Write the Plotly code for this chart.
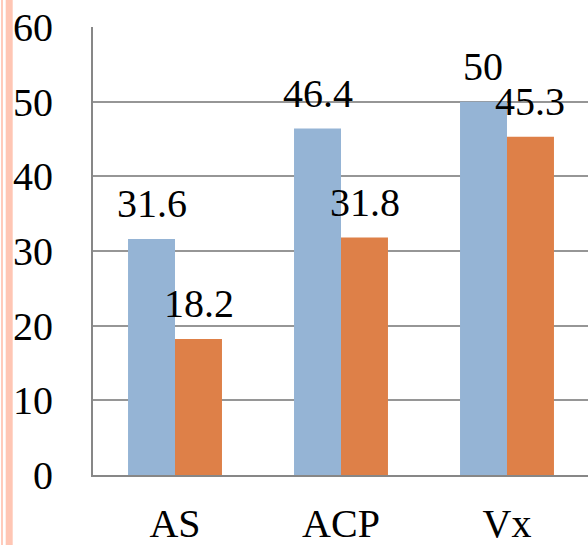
import plotly.graph_objects as go

categories = ["AS", "ACP", "Vx"]
series_a = [31.6, 46.4, 50]
series_b = [18.2, 31.8, 45.3]
y_ticks = [0, 10, 20, 30, 40, 50, 60]

BLUE = "#95B4D5"
ORANGE = "#DE8048"
FONT = "Liberation Serif, Times New Roman, Times, serif"
FS = 40

fig = go.Figure()
fig.add_trace(go.Bar(x=categories, y=series_a, marker=dict(color=BLUE, line=dict(width=0)), showlegend=False))
fig.add_trace(go.Bar(x=categories, y=series_b, marker=dict(color=ORANGE, line=dict(width=0)), showlegend=False))

annotations = []
for cat, va, vb in zip(categories, series_a, series_b):
    for v, xs in ((va, -23.5), (vb, 23.5)):
        annotations.append(dict(x=cat, y=v, xref="x", yref="y", text=f"{v:g}", showarrow=False,
                                xanchor="center", yanchor="bottom", xshift=xs, yshift=11,
                                font=dict(family=FONT, size=FS, color="black")))

# decorative stripes on left edge
W_PLOT = 495.0
def px_x(p):
    return (p - 93) / W_PLOT
shapes = [
    dict(type="rect", xref="paper", yref="paper", x0=px_x(1), x1=px_x(3), y0=-0.2, y1=1.1,
         fillcolor="#FFCBBB", line=dict(width=0), layer="above"),
    dict(type="rect", xref="paper", yref="paper", x0=px_x(5.7), x1=px_x(12.7), y0=-0.2, y1=1.1,
         fillcolor="#FFC6B4", line=dict(width=0), layer="above"),
]

fig.update_layout(
    width=588, height=545,
    margin=dict(l=93, r=0, t=27, b=70, autoexpand=False),
    paper_bgcolor="white", plot_bgcolor="white",
    barmode="group", bargap=0.434, bargroupgap=0,
    font=dict(family=FONT, size=FS, color="black"),
    annotations=annotations, shapes=shapes,
    xaxis=dict(range=[-0.494, 2.488], showgrid=False, showline=True, linecolor="#878787", linewidth=2,
               ticks="", tickfont=dict(family=FONT, size=FS, color="black"), ticklabelstandoff=12),
    yaxis=dict(range=[0, 60], tickvals=y_ticks, showgrid=True, gridcolor="#969696", gridwidth=1.5,
               showline=True, linecolor="#878787", linewidth=2, zeroline=False, ticks="",
               tickfont=dict(family=FONT, size=FS, color="black"), ticklabelstandoff=30),
)

fig.write_html("out.html", config={"displayModeBar": False},
               post_script="document.body.style.margin='0';document.body.style.overflow='hidden';")
